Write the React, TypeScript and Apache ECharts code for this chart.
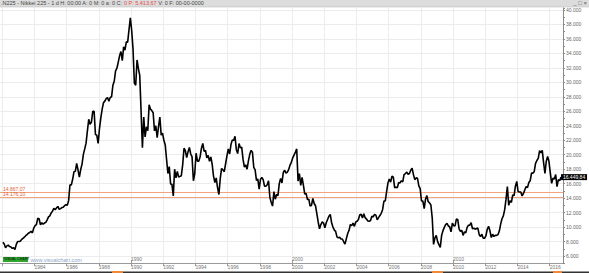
import React, { useEffect, useRef } from "react";
import * as echarts from "echarts";

// Nikkei 225, approximate monthly values (Jan 1982 - Sep 2016)
const startYear = 1982;
const closes80s: number[] = [
  7900, 7650, 7150, 7400, 7500, 7300, 7250, 7050, 7150, 6900, 7600, 8000,
  8000, 8050, 8300, 8450, 8600, 8800, 8950, 9150, 9250, 9400, 9200, 9850,
  10200, 10350, 11200, 11150, 10300, 10600, 10400, 10550, 10650, 11000, 11400, 11550,
  11950, 12200, 12600, 12400, 12650, 12850, 12450, 12550, 12700, 12750, 12950, 13100,
  13000, 13650, 15850, 15800, 16600, 17650, 17700, 18800, 17900, 16900, 17950, 18700,
  20050, 20800, 21600, 23300, 24900, 24200, 24500, 26000, 26000, 22800, 22700, 21550,
  23600, 25100, 26300, 27200, 27400, 27750, 27900, 27400, 27900, 28000, 29600, 30150,
  31600, 31950, 32800, 33700, 34250, 33000, 34900, 34450, 35600, 35550, 37250, 38900,
];
const closes90s: number[] = [
  37200, 34600, 29900, 29600, 33100, 31900, 31000, 26000, 20980, 25200, 22450, 23850,
  23300, 26900, 26300, 26100, 25800, 23300, 24000, 22350, 23900, 25200, 22700, 22980,
  22000, 21350, 19350, 17400, 18350, 15950, 15900, 14300, 18000, 16800, 17700, 16900,
  17000, 17100, 18600, 20900, 20550, 19600, 20400, 21000, 20100, 19700, 16400, 17400,
  20200, 19100, 19100, 19700, 20900, 21550, 20450, 20600, 19550, 19900, 19100, 19700,
  18650, 17050, 16150, 16800, 15450, 14500, 16700, 18100, 17900, 17650, 18750, 19850,
  20800, 20100, 21400, 22050, 21950, 22550, 20700, 20150, 21550, 20950, 21050, 19350,
  18300, 18600, 18000, 19150, 20050, 20600, 20350, 18250, 17900, 16450, 16650, 15250,
  16600, 16850, 16550, 15650, 15650, 15850, 16400, 14100, 13400, 12900, 14900, 13850,
  14500, 14350, 16000, 16700, 16100, 17550, 17850, 17450, 17600, 17950, 18550, 18950,
];
const closes00s: number[] = [
  19550, 19950, 20350, 20800, 16350, 17400, 15750, 16850, 15750, 14550, 14650, 13800,
  13850, 12900, 13000, 13950, 13250, 12950, 11850, 10700, 9750, 10350, 10700, 10550,
  9900, 10600, 11050, 11500, 11750, 10600, 10000, 9600, 9400, 8650, 8500, 8600,
  8350, 8350, 7970, 7650, 8400, 9100, 9550, 10350, 10200, 10550, 10100, 10700,
  10800, 11050, 11700, 11750, 11250, 11850, 11300, 11100, 10850, 10800, 10900, 11500,
  11400, 11750, 11650, 11000, 11300, 11600, 11900, 12400, 13600, 13600, 14900, 16100,
  16650, 16200, 17050, 16900, 15450, 15500, 15450, 16150, 16100, 16400, 16250, 17250,
  17400, 17600, 17300, 17400, 17850, 18150, 17250, 16550, 16800, 16750, 15700, 15300,
  13600, 13600, 12550, 13850, 14350, 13500, 13350, 13050, 11250, 7600, 8500, 8850,
  7990, 7570, 7200, 8850, 9500, 9950, 10350, 10500, 10150, 10050, 9350, 10550,
];
const closes10s: number[] = [
  10200, 10150, 11100, 11050, 9750, 9400, 9550, 8850, 9350, 9200, 9950, 10250,
  10250, 10600, 9750, 9850, 9700, 9800, 9850, 8950, 8700, 9000, 8450, 8450,
  8800, 9700, 10100, 9500, 8550, 9000, 8700, 8850, 8850, 8950, 9450, 10400,
  11150, 11550, 12400, 13850, 15600, 13000, 13650, 13400, 14450, 14350, 15650, 16300,
  14900, 14850, 14850, 14300, 14650, 15150, 15600, 15450, 16150, 16400, 17450, 17450,
  17650, 18800, 19200, 19500, 20550, 20250, 20600, 18900, 17400, 19100, 19750, 19050,
  17500, 16050, 16750, 16650, 17250, 15600, 16550, 16400, 16900,
];

const levelValues = [14867.07, 14176.1];
const levelLabels = ["14.867,07", "14.176,10"];
const lastLabel = "16.449,84";
const firstYearLabel = 1984;
const decadeLabels = [1990, 2000, 2010];

const FONT = "Liberation Sans";

function fmtThousands(v: number): string {
  const k = Math.round(v / 1000);
  return k + ".000";
}

export default function App() {
  const ref = useRef<HTMLDivElement>(null);

  useEffect(() => {
    document.body.style.margin = "0";
    if (!ref.current) return;
    const chart = echarts.init(ref.current, undefined, { renderer: "svg" });
    const all = [...closes80s, ...closes90s, ...closes00s, ...closes10s];
    const data = all.map((v, i) => [startYear + (i + 0.5) / 12, v]);
    const xMin = 1980;
    const xMax = 2016.83;
    const xStart = 1981.86;
    const last = data[data.length - 1];

    chart.setOption({
      animation: false,
      backgroundColor: "#ffffff",
      textStyle: { fontFamily: FONT },
      grid: { left: -30, width: 593, top: 7.83, height: 255.4, outerBoundsMode: "none", containLabel: false },
      xAxis: [
        {
          type: "value",
          min: xMin,
          max: xMax,
          interval: 2,
          position: "bottom",
          axisLine: { show: true, lineStyle: { color: "#9a9a9a", width: 1 } },
          axisTick: { show: true, length: 3, lineStyle: { color: "#9a9a9a" } },
          axisLabel: {
            fontSize: 5,
            color: "#777",
            align: "left",
            margin: 1.5,
            showMaxLabel: false,
            fontFamily: FONT,
            formatter: (v: number) => (v >= firstYearLabel ? String(Math.round(v)) : ""),
          },
          splitLine: { show: true, lineStyle: { color: "#ececec", width: 1 } },
        },
        {
          type: "value",
          min: xMin,
          max: xMax,
          interval: 10,
          position: "bottom",
          axisLine: { show: false },
          axisTick: { show: true, inside: true, length: 3, lineStyle: { color: "#9a9a9a" } },
          axisLabel: {
            inside: true,
            fontSize: 5,
            color: "#777",
            align: "left",
            margin: 2,
            showMaxLabel: false,
            fontFamily: FONT,
            formatter: (v: number) => (decadeLabels.indexOf(Math.round(v)) >= 0 ? String(Math.round(v)) : ""),
          },
          splitLine: { show: false },
        },
      ],
      yAxis: {
        type: "value",
        position: "right",
        min: 5000,
        max: 40300,
        interval: 1000,
        axisLine: { show: true, lineStyle: { color: "#8a8a8a", width: 1 } },
        axisTick: { show: true, length: 2, lineStyle: { color: "#8a8a8a" } },
        axisLabel: {
          fontSize: 5,
          color: "#666",
          margin: 3,
          fontFamily: FONT,
          formatter: (v: number) => (v % 2000 === 0 && v <= 40000 ? fmtThousands(v) : ""),
        },
        splitLine: { show: true, lineStyle: { color: ["transparent", "#ececec"], width: 1 } },
      },
      series: [
        {
          type: "line",
          data,
          xAxisIndex: 0,
          showSymbol: false,
          symbol: "none",
          lineStyle: { color: "#000", width: 1.6 },
          z: 5,
          markLine: {
            symbol: "none",
            silent: true,
            animation: false,
            data: levelValues.map((lv, i) => [
              {
                coord: [xStart, lv],
                lineStyle: { color: "#f2a57c", width: 1, type: "solid" },
                label: {
                  show: true,
                  position: "insideStartTop",
                  formatter: levelLabels[i],
                  color: "#e2603a",
                  fontSize: 5,
                  distance: [3, 0.5],
                  fontFamily: FONT,
                },
              },
              { coord: [xMax, lv] },
            ]),
          },
          markPoint: {
            silent: true,
            animation: false,
            data: [
              {
                coord: last,
                symbol: "rect",
                symbolSize: [26, 6],
                symbolOffset: [13, 0],
                itemStyle: { color: "#000" },
                label: {
                  show: true,
                  position: "inside",
                  formatter: lastLabel,
                  color: "#fff",
                  fontSize: 5,
                  fontFamily: FONT,
                },
              },
            ],
          },
        },
      ],
      graphic: [
        { type: "rect", left: 0, top: 0, shape: { width: 589, height: 6.5 }, style: { fill: "#dcdcdc" }, z: 100 },
        { type: "rect", left: 0, top: 6.5, shape: { width: 589, height: 0.8 }, style: { fill: "#b8b8b8" }, z: 100 },
        {
          type: "text",
          left: 1,
          top: 0.3,
          z: 101,
          style: {
            text: "{a|.N225 - Nikkei 225 - 1 d H: 00:00 A: 0 M: 0 a: 0 C:} {r|0 P: 5.413,67} {a|V: 0 F: 00-00-0000}",
            fontSize: 5.5,
            fontFamily: FONT,
            rich: {
              a: { fill: "#444", fontSize: 5.5, fontFamily: FONT },
              r: { fill: "#e24a4a", fontSize: 5.5, fontFamily: FONT },
            },
          },
        },
        {
          type: "text",
          right: 2,
          top: 0,
          z: 101,
          style: { text: "_ □ ×", fontSize: 6, fill: "#555", fontFamily: FONT },
        },
        { type: "rect", left: 3, top: 257, shape: { width: 25, height: 5 }, style: { fill: "#2fa52f" }, z: 50 },
        {
          type: "text",
          left: 4,
          top: 257.6,
          z: 51,
          style: { text: "VISUAL CHART", fontSize: 3.4, fill: "#0c3a0c", fontFamily: FONT, fontWeight: "bold" },
        },
        {
          type: "text",
          left: 30.5,
          top: 256.5,
          z: 51,
          style: { text: "www.visualchart.com", fontSize: 5.5, fill: "#8ea6c8", fontFamily: FONT },
        },
        { type: "rect", left: 0, top: 271.5, shape: { width: 589, height: 1.5 }, style: { fill: "#333" }, z: 60 },
        { type: "rect", left: 112, top: 271, shape: { width: 11, height: 2 }, style: { fill: "#f08a3a" }, z: 61 },
        { type: "rect", left: 432, top: 271, shape: { width: 11, height: 2 }, style: { fill: "#f08a3a" }, z: 61 },
        { type: "rect", left: 553, top: 271, shape: { width: 9, height: 2 }, style: { fill: "#f08a3a" }, z: 61 },
      ],
    });

    return () => {
      chart.dispose();
    };
  }, []);

  return <div ref={ref} style={{ width: 589, height: 273 }} />;
}
